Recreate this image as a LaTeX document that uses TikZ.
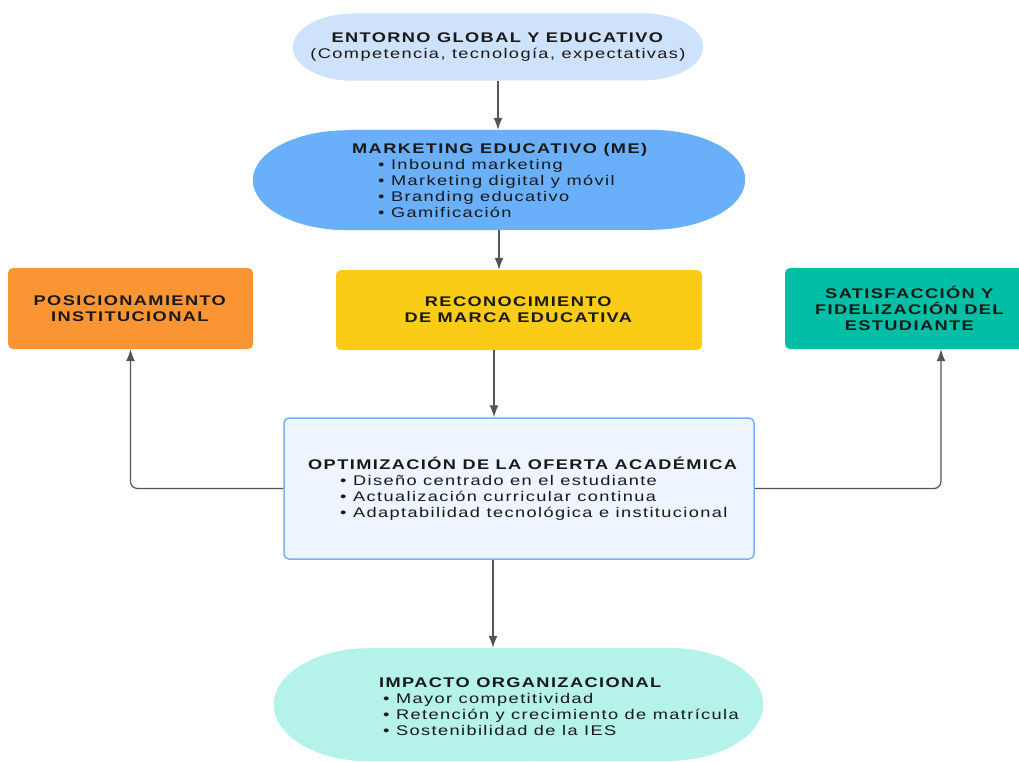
\documentclass[tikz,border=0pt]{standalone}
\usepackage{fontspec}
\setmainfont{Liberation Sans}[FakeStretch=1.3, LetterSpace=10]
\usetikzlibrary{arrows.meta,backgrounds}

\definecolor{entornoblue}{HTML}{CFE2FC}
\definecolor{meblue}{HTML}{6AAFFA}
\definecolor{posorange}{HTML}{FB9533}
\definecolor{recyellow}{HTML}{FACC15}
\definecolor{satteal}{HTML}{00BFA6}
\definecolor{optfill}{HTML}{EEF5FE}
\definecolor{optline}{HTML}{74B2F8}
\definecolor{impactteal}{HTML}{B4F2EA}
\definecolor{connline}{HTML}{555555}

% flat-topped oval behind a node: name, end radius, half height, colour
\newcommand\ovalfill[4]{\fill[#4] ([xshift=#2]#1.north west) -- ([xshift=-#2]#1.north east)
	arc[start angle=90, end angle=-90, x radius=#2, y radius=#3] -- ([xshift=#2]#1.south west)
	arc[start angle=270, end angle=90, x radius=#2, y radius=#3] -- cycle;}

\begin{document}
\begin{tikzpicture}[x=1pt, y=-1pt, >={Latex[length=12pt,width=9pt]},
	every node/.style={font=\fontsize{14}{16}\selectfont, text=black!90},
	oval/.style={rectangle, inner sep=0pt, align=center},
	tile/.style={rectangle, rounded corners=5pt, inner sep=0pt, align=center},
	listtxt/.style={anchor=west, align=left, inner sep=0pt},
	conn/.style={draw=connline, line width=1.2pt, rounded corners=7pt}]
		\clip (0,0) rectangle (1019,761);
		% ovals
		\node[oval, minimum width=410pt, minimum height=67pt] (entorno) at (498,47)
			{\textbf{ENTORNO GLOBAL Y EDUCATIVO}\\(Competencia, tecnología, expectativas)};
		\node[oval, minimum width=492pt, minimum height=100pt] (me) at (499,180) {};
		\node[listtxt] (metxt) at (352,180) {\textbf{MARKETING EDUCATIVO (ME)}\\
			\hspace*{26pt}\textbullet\ Inbound marketing\\
			\hspace*{26pt}\textbullet\ Marketing digital y móvil\\
			\hspace*{26pt}\textbullet\ Branding educativo\\
			\hspace*{26pt}\textbullet\ Gamificación};
		% boxes
		\node[tile, fill=posorange, minimum width=245pt, minimum height=81pt] (pos) at (130.5,308.5)
			{\textbf{POSICIONAMIENTO}\\\textbf{INSTITUCIONAL}};
		\node[tile, fill=recyellow, minimum width=366pt, minimum height=80pt] (rec) at (519,310)
			{\textbf{RECONOCIMIENTO}\\\textbf{DE MARCA EDUCATIVA}};
		\node[tile, fill=satteal, minimum width=250pt, minimum height=81pt] (sat) at (910,308.5)
			{\textbf{SATISFACCIÓN Y}\\\textbf{FIDELIZACIÓN DEL}\\\textbf{ESTUDIANTE}};
		\node[tile, fill=optfill, draw=optline, line width=1.5pt, minimum width=470pt, minimum height=141pt] (opt) at (519,488.5) {};
		\node[listtxt] (opttxt) at (308,489) {\textbf{OPTIMIZACIÓN DE LA OFERTA ACADÉMICA}\\
			\hspace*{32pt}\textbullet\ Diseño centrado en el estudiante\\
			\hspace*{32pt}\textbullet\ Actualización curricular continua\\
			\hspace*{32pt}\textbullet\ Adaptabilidad tecnológica e institucional};
		\node[oval, minimum width=489pt, minimum height=113pt] (impacto) at (518.5,704.5) {};
		\node[listtxt] (impactotxt) at (379,707) {\textbf{IMPACTO ORGANIZACIONAL}\\
			\hspace*{4pt}\textbullet\ Mayor competitividad\\
			\hspace*{4pt}\textbullet\ Retención y crecimiento de matrícula\\
			\hspace*{4pt}\textbullet\ Sostenibilidad de la IES};
		\begin{pgfonlayer}{background}
			\fill[white] (0,0) rectangle (1019,761);
			\ovalfill{entorno}{60pt}{33.5pt}{entornoblue}
			\ovalfill{me}{95pt}{50pt}{meblue}
			\ovalfill{impacto}{95pt}{56.5pt}{impactteal}
		\end{pgfonlayer}
		% connectors
		\draw[conn,->] (entorno.south) -- (entorno.south |- me.north);
		\draw[conn,->] (me.south) -- (me.south |- rec.north);
		\draw[conn,->] ([xshift=-25pt]rec.south) -- ([xshift=-25pt]rec.south |- opt.north);
		\draw[conn,->] (opt.west) -| (pos.south);
		\draw[conn,->] (opt.east) -| ([xshift=31pt]sat.south);
		\draw[conn,->] ([xshift=-26pt]opt.south) -- ([xshift=-26pt]opt.south |- impacto.north);
	\end{tikzpicture}
\end{document}
